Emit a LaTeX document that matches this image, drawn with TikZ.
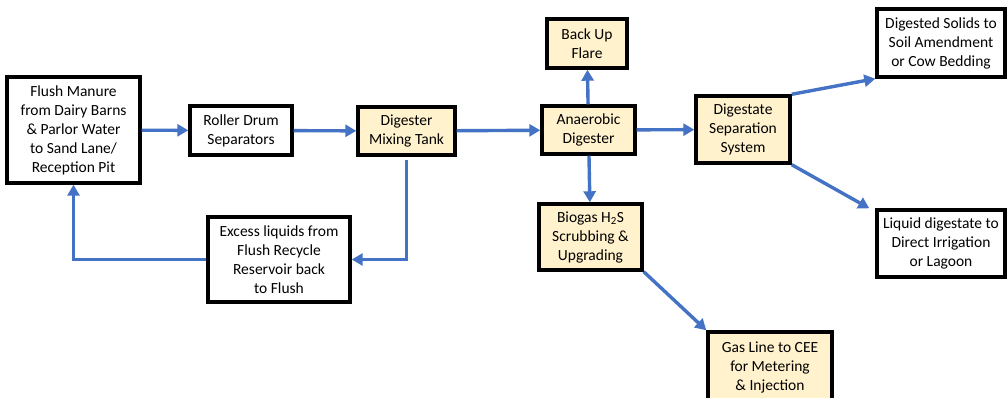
\documentclass[tikz,border=0pt]{standalone}
\usepackage{fontspec}
\setmainfont{Carlito}
\usetikzlibrary{arrows.meta}
\definecolor{arrblue}{HTML}{4472C4}
\definecolor{cream}{HTML}{FFF2CC}
\tikzset{
  box/.style={draw=black, line width=3.4pt, align=center, inner sep=0pt,
    font=\fontsize{15.5}{19}\selectfont},
  wbox/.style={box, fill=white},
  cbox/.style={box, fill=cream},
  arr/.style={draw=arrblue, line width=3.4pt, -{Triangle[length=11pt,width=12pt]}},
}
\begin{document}
\begin{tikzpicture}[x=1pt,y=-1pt]
\useasboundingbox[fill=white] (0,0) rectangle (1008,398);
\node[wbox, minimum width=133pt, minimum height=106pt] (flush) at (73.5,130)
  {Flush Manure\\from Dairy Barns\\\& Parlor Water\\to Sand Lane/\\Reception Pit};
\node[wbox, minimum width=102pt, minimum height=49pt] (roller) at (241,130.5)
  {Roller Drum\\Separators};
\node[wbox, minimum width=142pt, minimum height=85pt] (excess) at (279,259.5)
  {Excess liquids from\\Flush Recycle\\Reservoir back\\to Flush};
\node[cbox, minimum width=97pt, minimum height=48pt] (mix) at (406.5,131)
  {Digester\\Mixing Tank};
\node[cbox, minimum width=93pt, minimum height=48pt] (anaer) at (588.5,130)
  {Anaerobic\\Digester};
\node[cbox, minimum width=80pt, minimum height=49pt] (flare) at (587,43.5)
  {Back Up\\Flare};
\node[cbox, minimum width=103pt, minimum height=66pt] (biogas) at (590.5,237)
  {Biogas H\textsubscript{2}S\\Scrubbing \&\\Upgrading};
\node[cbox, minimum width=94pt, minimum height=67pt] (digsep) at (743,129.5)
  {Digestate\\Separation\\System};
\node[wbox, minimum width=128pt, minimum height=68pt] (solids) at (941,43)
  {Digested Solids to\\Soil Amendment\\or Cow Bedding};
\node[wbox, minimum width=128pt, minimum height=67pt] (liquid) at (941,243.5)
  {Liquid digestate to\\Direct Irrigation\\or Lagoon};
\node[cbox, minimum width=124pt, minimum height=70pt] (gas) at (770,367)
  {Gas Line to CEE\\for Metering\\\& Injection};

\draw[arr] (flush) -- (roller);
\draw[arr] (roller) -- (mix);
\draw[arr] (mix) -- (anaer);
\draw[arr] (anaer) -- (digsep);
\draw[arr] (anaer) -- (flare);
\draw[arr] (anaer) -- (biogas);
\draw[arr] (mix.south) ++(0,3) |- (excess.east);
\draw[arr] (excess.west) -| (flush.south);
\draw[arr] (digsep.north east) -- (solids.south west);
\draw[arr] (digsep.south east) -- ([xshift=-6pt]liquid.north west);
\draw[arr] (biogas.south east) -- (gas.north west);
\end{tikzpicture}
\end{document}
